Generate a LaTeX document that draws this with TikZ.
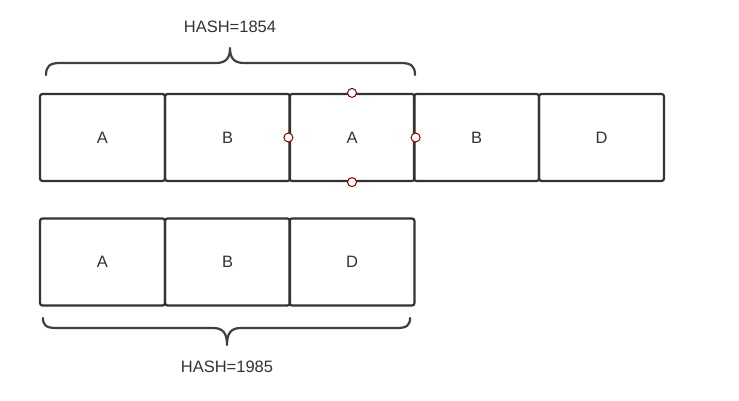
\documentclass[tikz,border=0pt]{standalone}
\usepackage{fontspec}
\setmainfont{Liberation Sans}
\begin{document}
\begin{tikzpicture}[x=1pt,y=-1pt,
  cell/.style={draw=black!80,line width=2.2pt,rounded corners=2.5pt,minimum width=125pt,minimum height=87pt,inner sep=0pt,font=\fontsize{16.5}{18}\selectfont,text=black!80},
  handle/.style={circle,draw=red!55!black,fill=white,line width=1pt,minimum size=9pt,inner sep=0pt},
  bracepath/.style={draw=black!75,line width=2.2pt,line cap=round,line join=round},
  lbl/.style={font=\fontsize{16.5}{18}\selectfont,text=black!80,inner sep=0pt}]
\useasboundingbox (0,0) rectangle (739,400);
% top row
\node[cell] (a1) at (102.5,137.5) {A};
\node[cell] (b1) at (227.5,137.5) {B};
\node[cell] (a2) at (352,137.5) {A};
\node[cell] (b2) at (476.5,137.5) {B};
\node[cell] (d1) at (601.5,137.5) {D};
% bottom row
\node[cell] (a3) at (102.5,262) {A};
\node[cell] (b3) at (227.5,262) {B};
\node[cell] (d2) at (352,262) {D};
% handles on selected cell
\node[handle] (hn) at (a2.north) {};
\node[handle] (hs) at (a2.south) {};
\node[handle] (hw) at (a2.west) {};
\node[handle] (he) at (a2.east) {};
% top brace
\draw[bracepath] (46,75) .. controls (46,66) and (50,63) .. (60,63) -- (216,63)
  .. controls (226,63) and (230,58) .. (230,48)
  .. controls (230,58) and (234,63) .. (244,63) -- (401,63)
  .. controls (411,63) and (415,66) .. (415,75);
\node[lbl] (h1) at (230,27) {HASH=1854};
% bottom brace
\draw[bracepath] (43,318) .. controls (43,325) and (46,328) .. (56,328) -- (213,328)
  .. controls (223,328) and (227,333) .. (227,345)
  .. controls (227,333) and (231,328) .. (241,328) -- (397,328)
  .. controls (407,328) and (410,325) .. (410,318);
\node[lbl] (h2) at (227,367) {HASH=1985};
\end{tikzpicture}
\end{document}
